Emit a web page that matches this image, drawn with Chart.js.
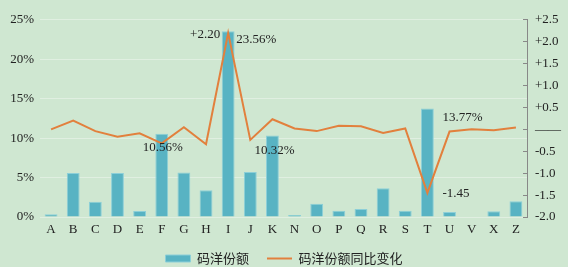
<!DOCTYPE html>
<html>
<head>
<meta charset="utf-8">
<script src="https://cdn.jsdelivr.net/npm/chart.js@4/dist/chart.umd.min.js"></script>
<style>
  html, body { margin: 0; padding: 0; background: #cfe7d1; }
  #wrap { width: 568px; height: 267px; }
</style>
</head>
<body>
<div id="wrap"><canvas id="c"></canvas></div>
<script>
// -------- DATA --------
const categories = ["A","B","C","D","E","F","G","H","I","J","K","N","O","P","Q","R","S","T","U","V","X","Z"];
const shareValues = [0.35, 5.57, 1.93, 5.57, 0.75, 10.56, 5.65, 3.39, 23.56, 5.7, 10.32, 0.25, 1.67, 0.8, 1.0, 3.64, 0.8, 13.77, 0.63, 0.05, 0.72, 2.0];
const changeValues = [0.0, 0.2, -0.04, -0.17, -0.09, -0.32, 0.05, -0.34, 2.2, -0.24, 0.23, 0.02, -0.04, 0.08, 0.07, -0.08, 0.02, -1.45, -0.05, 0.0, -0.02, 0.04];
const leftTicks = [0, 5, 10, 15, 20, 25];
const rightTicks = [-2.0, -1.5, -1.0, -0.5, 0, 0.5, 1.0, 1.5, 2.0, 2.5];
const seriesNames = ["码洋份额", "码洋份额同比变化"];

// labels shown on the chart: [dataset, index, text, dx, dy, align]
const pointLabels = [
    [0, 8, "23.56%", 8, 8, "left"],
    [1, 8, "+2.20", -8, 2, "right"],
    [0, 5, "10.56%", 1, 14, "center"],
    [0, 10, "10.32%", 2, 15, "center"],
    [0, 17, "13.77%", 15, 9, "left"],
    [1, 17, "-1.45", 15, 1, "left"]
];

const SERIF = "'Liberation Serif', 'DejaVu Serif', serif";
const TEXT = "#222";

// -------- LABEL PLUGIN --------
const labelPlugin = {
    id: "pointLabels",
    afterDatasetsDraw(chart) {
        const ctx = chart.ctx;
        ctx.save();
        ctx.font = "13px " + SERIF;
        ctx.fillStyle = TEXT;
        ctx.textBaseline = "middle";
        pointLabels.forEach(([ds, i, txt, dx, dy, align]) => {
            const el = chart.getDatasetMeta(ds).data[i];
            ctx.textAlign = align;
            ctx.fillText(txt, el.x + dx, el.y + dy);
        });
        ctx.restore();
    }
};

const ctx = document.getElementById("c").getContext("2d");
new Chart(ctx, {
    data: {
        labels: categories,
        datasets: [{
            type: "bar",
            label: seriesNames[0],
            data: shareValues,
            yAxisID: "y",
            backgroundColor: "#58b3c3",
            borderColor: "#8ccfd8",
            borderWidth: 1,
            barPercentage: 0.58,
            categoryPercentage: 1,
            pointStyle: "rect",
            order: 2
        }, {
            type: "line",
            label: seriesNames[1],
            data: changeValues,
            yAxisID: "y1",
            borderColor: "#e2803d",
            backgroundColor: "#e2803d",
            borderWidth: 2,
            pointRadius: 0,
            tension: 0,
            pointStyle: "line",
            order: 1
        }]
    },
    options: {
        responsive: true,
        maintainAspectRatio: false,
        animation: false,
        layout: { padding: { top: 18, right: 4, left: 4, bottom: -8 } },
        scales: {
            x: {
                grid: { display: false, drawTicks: false },
                border: { display: false },
                ticks: { color: TEXT, font: { family: SERIF, size: 13 }, padding: 5 },
                afterFit: s => { s.height = 17; }
            },
            y: {
                position: "left",
                min: 0,
                max: 25,
                afterBuildTicks: s => { s.ticks = leftTicks.map(v => ({ value: v })); },
                grid: { color: "rgba(255,255,255,0.35)", drawTicks: false },
                border: { display: false },
                ticks: {
                    color: TEXT,
                    font: { family: SERIF, size: 13 },
                    padding: 6,
                    callback: v => v + "%"
                },
                afterFit: s => { s.width = 36; }
            },
            y1: {
                position: "right",
                min: -2.0,
                max: 2.5,
                afterBuildTicks: s => { s.ticks = rightTicks.map(v => ({ value: v })); },
                grid: { display: true, drawOnChartArea: false, tickLength: -4, color: "#888" },
                border: { display: true, color: "#888" },
                ticks: {
                    color: TEXT,
                    font: { family: SERIF, size: 13 },
                    padding: 12,
                    callback: v => v === 0 ? "——" : (v > 0 ? "+" : "") + v.toFixed(1)
                },
                afterFit: s => { s.width = 37; }
            }
        },
        plugins: {
            legend: {
                position: "bottom",
                labels: {
                    usePointStyle: true,
                    pointStyleWidth: 25,
                    boxHeight: 7,
                    color: TEXT,
                    padding: 18,
                    font: { family: "'Noto Sans CJK SC', sans-serif", size: 13 },
                    sort: (a, b) => a.datasetIndex - b.datasetIndex
                }
            },
            tooltip: { enabled: false }
        }
    },
    plugins: [labelPlugin]
});
</script>
</body>
</html>
